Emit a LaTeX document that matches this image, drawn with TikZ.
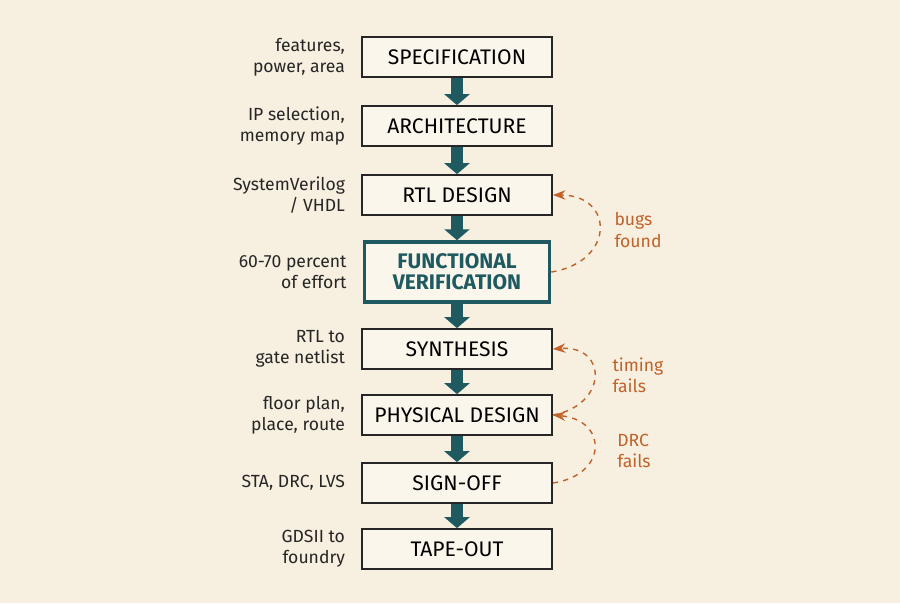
\documentclass[tikz,border=0pt]{standalone}
\usepackage{fontspec}
\setmainfont{Fira Sans}
\usetikzlibrary{positioning,arrows.meta}
\definecolor{paper}{HTML}{F7EFDF}
\definecolor{boxfill}{HTML}{FBF6EC}
\definecolor{teal}{HTML}{1F5A61}
\definecolor{rust}{HTML}{C0622A}
\begin{document}
\begin{tikzpicture}[x=0.02cm,y=-0.02cm]

% Definitions
\tikzset{stage/.style={rectangle, minimum width=3.8cm, minimum height=0.8cm, text centered, draw=black!85, line width=1pt, fill=boxfill, font=\large},
  flow/.style={teal, line width=0.24cm, -{Triangle[width=0.5cm,length=0.22cm]}},
  note/.style={align=right, anchor=east, font=\normalsize, text=black!85},
  loop/.style={rust, thick, dashed, -{Stealth[length=0.25cm]}},
  loopnote/.style={rust, font=\normalsize, align=left}}

\fill[paper] (0,0) rectangle (900,603);

\node (spec) [stage] at (457,57) {SPECIFICATION};
\node (arch) [stage] at (457,126) {ARCHITECTURE};
\node (rtl) [stage] at (457,195) {RTL DESIGN};
\node (fv) [stage, minimum width=3.7cm, minimum height=1.2cm, line width=2pt, draw=teal, text=teal, align=center, font=\large\bfseries] at (457,272) {FUNCTIONAL\\[-2pt]VERIFICATION};
\node (syn) [stage] at (457,349) {SYNTHESIS};
\node (pd) [stage] at (457,415) {PHYSICAL DESIGN};
\node (sign) [stage] at (457,483) {SIGN-OFF};
\node (tape) [stage] at (457,549) {TAPE-OUT};

\draw [flow] (spec) -- (arch);
\draw [flow] (arch) -- (rtl);
\draw [flow] (rtl) -- (fv);
\draw [flow] (fv) -- (syn);
\draw [flow] (syn) -- (pd);
\draw [flow] (pd) -- (sign);
\draw [flow] (sign) -- (tape);

\node [note, left=0.2cm of spec] {features,\\power, area};
\node [note, left=0.2cm of arch] {IP selection,\\memory map};
\node [note, left=0.2cm of rtl] {SystemVerilog\\/ VHDL};
\node [note, left=0.2cm of fv] {60-70 percent\\of effort};
\node [note, left=0.2cm of syn] {RTL to\\gate netlist};
\node [note, left=0.2cm of pd] {floor plan,\\place, route};
\node [note, left=0.2cm of sign] {STA, DRC, LVS};
\node [note, left=0.2cm of tape] {GDSII to\\foundry};

\draw [loop] (fv.east) .. controls (615,262) and (615,195) .. (rtl.east);
\draw [loop] (pd.east) .. controls (608,405) and (608,345) .. (syn.east);
\draw [loop] (sign.east) .. controls (608,475) and (608,420) .. (pd.east);

\node [loopnote] at (638,230) {bugs\\found};
\node [loopnote] at (638,375) {timing\\fails};
\node [loopnote] at (634,451) {DRC\\fails};

\end{tikzpicture}
\end{document}
